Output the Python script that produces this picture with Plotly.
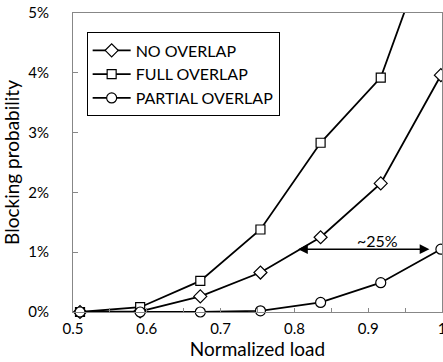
import plotly.graph_objects as go

load = [0.5095, 0.591, 0.6725, 0.754, 0.8355, 0.917, 0.9985]
no_overlap = [0.0, 0.01, 0.26, 0.66, 1.25, 2.15, 3.96]
full_overlap = [0.0, 0.08, 0.52, 1.38, 2.83, 3.92, 6.7]
partial_overlap = [0.0, 0.0, 0.0, 0.02, 0.16, 0.49, 1.05]

series = [
    ("NO OVERLAP", no_overlap, "diamond", 10),
    ("FULL OVERLAP", full_overlap, "square", 9),
    ("PARTIAL OVERLAP", partial_overlap, "circle", 10),
]

FONT = "Lato"
fig = go.Figure()
for i, (name, vals, sym, sz) in enumerate(series):
    fig.add_trace(go.Scatter(
        x=load, y=vals, name=name, mode="lines+markers",
        line=dict(color="black", width=1.8),
        marker=dict(symbol=sym, size=sz, color="white",
                    line=dict(color="black", width=1.2)),
        cliponaxis=False,
    ))

# double-headed arrow
fig.add_annotation(x=0.805, y=1.05, ax=0.985, ay=1.05, xref="x", yref="y",
                   axref="x", ayref="y", text="", showarrow=True,
                   arrowhead=2, startarrowhead=2, arrowside="end+start",
                   arrowsize=1.3, startarrowsize=1.3, arrowwidth=1.5,
                   arrowcolor="black")
fig.add_annotation(x=0.912, y=1.2, xref="x", yref="y", text="~25%",
                   showarrow=False, font=dict(family=FONT, size=16, color="black"))

axis_col = "#878787"
fig.update_layout(
    width=443, height=362,
    margin=dict(l=73, r=1, t=13, b=50),
    plot_bgcolor="white", paper_bgcolor="white",
    font=dict(family=FONT, size=15, color="black"),
    showlegend=True,
    legend=dict(x=0.037, y=0.935, xanchor="left", yanchor="top",
                bordercolor="black", borderwidth=1, bgcolor="white",
                itemwidth=38, font=dict(family=FONT, size=16)),
    xaxis=dict(range=[0.5, 1.0], dtick=0.1, tick0=0.5, showgrid=False,
               showline=True, linecolor=axis_col, linewidth=1, mirror=True,
               ticks="inside", ticklen=4, tickcolor=axis_col,
               minor=dict(dtick=0.05, ticks="inside", ticklen=4, tickcolor=axis_col),
               zeroline=False, automargin=False, ticklabeloverflow="allow",
               ticklabelstandoff=3,
               title=dict(text="Normalized load", standoff=2,
                          font=dict(family=FONT, size=19)),
               tickfont=dict(family=FONT, size=15)),
    yaxis=dict(range=[0, 5], dtick=1, showgrid=False, ticksuffix="%",
               showline=True, linecolor=axis_col, linewidth=1, mirror=True,
               ticks="inside", ticklen=5, tickcolor=axis_col,
               ticklabelstandoff=20, zeroline=False, automargin=False,
               ticklabeloverflow="allow",
               title=dict(text="Blocking probability", standoff=3,
                          font=dict(family=FONT, size=19)),
               tickfont=dict(family=FONT, size=15)),
)
# remove the page's default body margin so the figure sits at the window origin
fig.write_html("out.html", config={"displayModeBar": False},
               post_script="document.body.style.margin='0px';")
